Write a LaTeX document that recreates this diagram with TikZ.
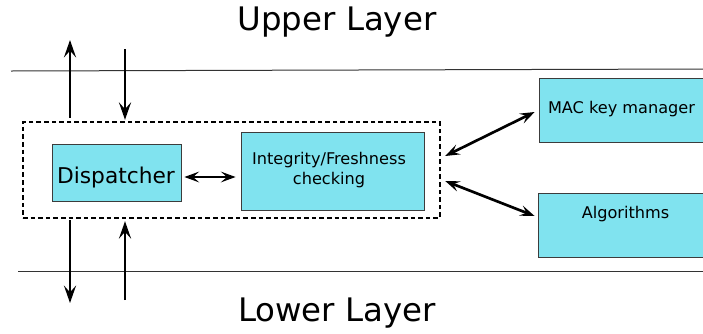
\documentclass[tikz,border=0pt]{standalone}
\usepackage{fontspec}
\setmainfont{DejaVu Sans}
\usetikzlibrary{arrows.meta,calc}
\definecolor{boxfill}{RGB}{128,227,239}
\definecolor{boxline}{RGB}{60,60,60}
\tikzset{
  box/.style={draw=boxline,line width=0.6pt,fill=boxfill,inner sep=0pt},
  core/.style={draw=black,line width=1.8pt,dash pattern=on 3.5pt off 2.2pt,inner sep=0pt},
  tip/.style={},
  arr/.style={line width=2pt,-{Stealth[length=13pt,width=9pt,inset=5pt]}},
  darr/.style={line width=2pt,{Stealth[length=11pt,width=8pt,inset=4.5pt]}-{Stealth[length=11pt,width=8pt,inset=4.5pt]}},
  layerline/.style={draw=black!80,line width=0.75pt},
  big/.style={font=\fontsize{24.3}{28}\selectfont},
  mid/.style={font=\fontsize{16.3}{19}\selectfont},
  small/.style={font=\fontsize{12.1}{15}\selectfont,align=center},
}
\begin{document}
\begin{tikzpicture}[x=0.75pt,y=-0.75pt]
\useasboundingbox (0,0) rectangle (703,333);
% layer lines
\coordinate (tl1) at (11,71);
\coordinate (tl2) at (703,69);
\coordinate (bl1) at (18,271);
\coordinate (bl2) at (703,271);
\draw[layerline] (tl1) -- (tl2);
\draw[layerline] (bl1) -- (bl2);
\node[big] (upper) at (337,22) {Upper Layer};
\node[big] (lower) at (337,313) {Lower Layer};
% dashed core
\node[core,minimum width=312.75pt,minimum height=72pt] (core) at (231.5,170) {};
\node[box,minimum width=96.75pt,minimum height=42.75pt] (disp) at (116.5,172.5) {};
\node[mid] (dispt) at (116,177) {Dispatcher};
\node[box,minimum width=137.25pt,minimum height=58.5pt] (int) at (332.5,171) {};
\node[small] (intt) at (329,170) {Integrity/Freshness\\checking};
\node[box,minimum width=123.75pt,minimum height=48pt] (mac) at (621.5,110) {};
\node[small] (mact) at (621.5,109) {MAC key manager};
\node[box,minimum width=124.5pt,minimum height=48pt] (alg) at (621,225) {};
\node[small] (algt) at (625.5,214) {Algorithms};
% vertical arrows
\coordinate (ut) at (70,40);
\coordinate (us) at (125,49);
\coordinate (lt) at (70,303);
\coordinate (ls) at (125,300);
\draw[arr] ($(core.north -| ut)+(0,-3)$) -- (ut);
\draw[arr] (us) -- ($(core.north -| us)+(0,-1)$);
\draw[arr] ($(core.south -| lt)+(0,1)$) -- (lt);
\draw[arr] (ls) -- ($(core.south -| ls)+(0,2)$);
% horizontal and diagonal arrows
\draw[darr] ($(disp.east)+(3,4.5)$) -- ($(int.west |- disp.east)+(-5,4.5)$);
\draw[darr] ($(core.east)+(4,-14)$) -- ($(mac.west)+(-4,2)$);
\draw[darr] ($(core.east)+(4,11)$) -- ($(alg.west)+(-3,-9)$);
\end{tikzpicture}
\end{document}
